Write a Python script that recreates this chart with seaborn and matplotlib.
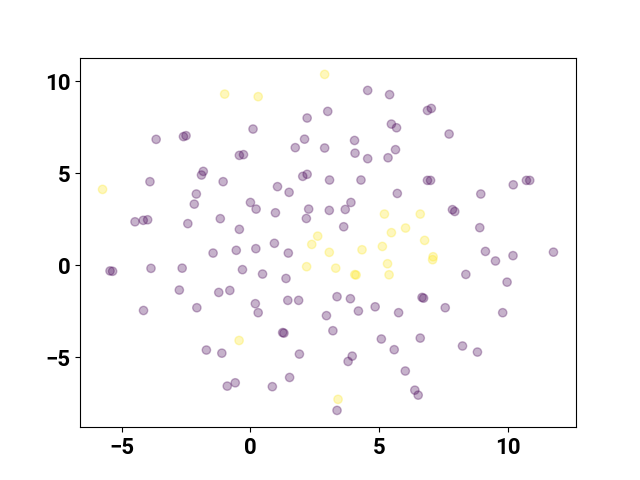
import numpy as np
import pandas as pd
import seaborn as sns
import matplotlib
matplotlib.use('Agg')
import matplotlib.pyplot as plt

# ------------------------- pontos da classe 0 (roxo) ------------------------ #
x0 = [-3.66, -2.6, -2.5, -0.43, -0.27, -1.83, -1.9, -3.9, -1.06, 0.1,
      4.55, 5.4, 3.0, 2.2, 5.47, 5.67, 2.1, 1.74, 2.88, 4.04,
      4.06, 4.55, 5.34, 5.63, 2.03, 2.2, 3.07, 4.29, 1.05, 6.87,
      7.02, 7.71, 6.87, 6.99, 10.2, 10.71, 10.84, -2.1, -2.18, 0.0,
      -4.48, -4.16, -3.99, -2.43, -1.17, -0.43, -1.45, -0.55, -5.45, -5.35,
      -3.86, -2.65, -0.31, -2.76, -1.23, -0.8, -2.08, 1.5, 0.22, 0.97,
      2.26, 2.17, 3.06, 3.68, 3.9, 3.62, 5.7, 0.21, 0.93, 1.47,
      0.47, 1.38, 0.19, 1.45, 1.87, 3.36, 3.88, 4.84, 8.94, 7.84,
      7.93, 8.9, 9.12, 9.51, 10.19, 11.76, 8.36, 9.96, 6.66, 6.72,
      7.56, -4.15, -1.71, -1.11, -0.9, -0.59, 0.3, 2.95, 4.19, 5.75,
      1.25, 1.3, 3.2, 5.08, 5.58, 1.9, 3.95, 3.79, 6.01, 1.52,
      0.85, 3.36, 6.38, 6.51, 9.79, 6.59, 8.23, 8.81]
y0 = [6.85, 7.0, 7.05, 5.98, 6.02, 5.11, 4.91, 4.55, 4.55, 7.41,
      9.51, 9.28, 8.37, 8.01, 7.68, 7.48, 6.86, 6.4, 6.38, 6.79,
      6.1, 5.8, 5.85, 6.29, 4.84, 4.95, 4.64, 4.64, 4.28, 8.42,
      8.53, 7.14, 4.62, 4.62, 4.38, 4.62, 4.62, 3.88, 3.33, 3.42,
      2.37, 2.45, 2.48, 2.27, 2.54, 1.96, 0.67, 0.82, -0.3, -0.32,
      -0.16, -0.15, -0.23, -1.34, -1.47, -1.36, -2.3, 3.97, 3.06, 2.86,
      3.06, 2.55, 2.99, 3.04, 3.42, 2.1, 3.91, 0.91, 1.2, 0.67,
      -0.47, -0.71, -2.08, -1.9, -1.9, -1.7, -1.81, -2.25, 3.88, 3.03,
      2.93, 2.05, 0.76, 0.24, 0.53, 0.72, -0.49, -0.91, -1.74, -1.78,
      -2.3, -2.45, -4.6, -4.77, -6.56, -6.38, -2.57, -2.73, -2.48, -2.57,
      -3.65, -3.68, -3.55, -4.0, -4.58, -4.82, -4.93, -5.22, -5.74, -6.09,
      -6.59, -7.88, -6.78, -7.05, -2.57, -3.95, -4.38, -4.71]

# ----------------------- pontos da classe 1 (amarelo) ----------------------- #
x1 = [-1.0, 2.88, 0.3, -5.74, 5.2, 6.02, 5.47, 2.61, 2.38, 3.06,
      4.33, 5.12, 2.18, 3.31, 4.05, 4.1, 5.32, 5.38, 6.59, 6.76,
      7.09, 7.07, -0.44, 3.4]
y1 = [9.31, 10.38, 9.17, 4.13, 2.79, 2.03, 1.78, 1.59, 1.14, 0.71,
      0.85, 1.03, -0.07, -0.15, -0.5, -0.52, 0.09, -0.51, 2.79, 1.36,
      0.47, 0.31, -4.08, -7.28]

# ticks dos eixos
ticks = [-5, 0, 5, 10]

df = pd.DataFrame({
    'x': x0 + x1,
    'y': y0 + y1,
    'classe': [0] * len(x0) + [1] * len(x1),
})

plt.rcParams['font.family'] = ['Roboto', 'DejaVu Sans']
plt.rcParams['font.weight'] = 'bold'
plt.rcParams['xtick.labelsize'] = 16
plt.rcParams['ytick.labelsize'] = 16

fig, ax = plt.subplots(figsize=(6.4, 4.8), dpi=100)
sns.scatterplot(data=df, x='x', y='y', hue='classe',
                palette=['#440154', '#fde725'], alpha=0.3,
                s=36, edgecolor='face', linewidth=1.0,
                legend=False, ax=ax)
ax.set_xlabel('')
ax.set_ylabel('')
ax.set_xticks(ticks)
ax.set_yticks(ticks)

plt.savefig('out.png')
